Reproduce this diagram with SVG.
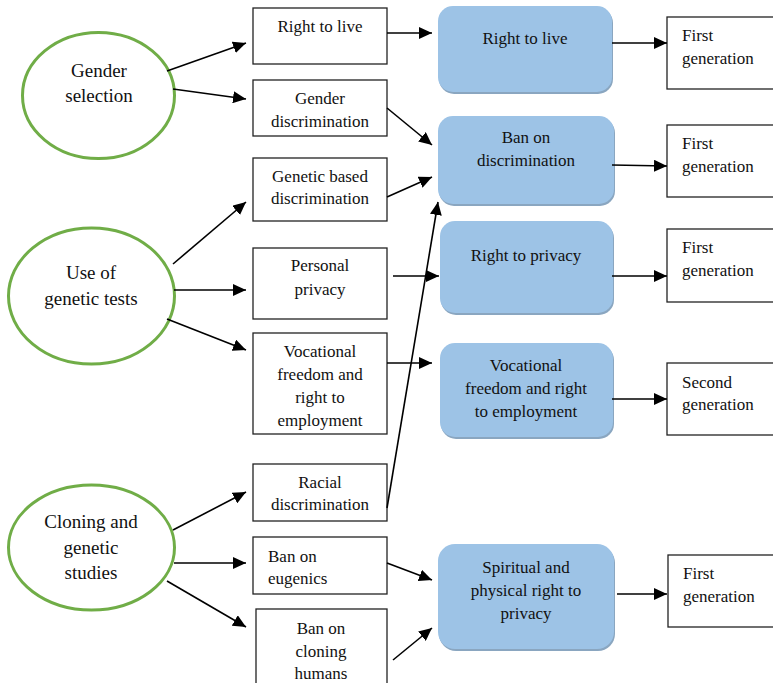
<svg xmlns="http://www.w3.org/2000/svg" width="773" height="683" viewBox="0 0 773 683" font-family="'Liberation Serif', 'DejaVu Serif', serif">
<style>
text{font-family:'Liberation Serif','DejaVu Serif',serif;fill:#111;}
.t{font-size:17px;}
.e{font-size:19px;}
.c{text-anchor:middle;}
.box{fill:#fff;stroke:#222;stroke-width:1.3;}
.ell{fill:#fff;stroke:#70AD47;stroke-width:3;}
.blue{fill:#9DC3E6;}
.sh{fill:#8AA6C0;}
.ln{stroke:#000;stroke-width:1.6;fill:none;marker-end:url(#ah);}
</style>
<defs>
<marker id="ah" markerUnits="userSpaceOnUse" markerWidth="14" markerHeight="12" refX="13" refY="6" orient="auto">
<path d="M0,0 L13,6 L0,12 Z" fill="#000"/>
</marker>
</defs>
<rect width="773" height="683" fill="#fff"/>

<g id="gender-selection">
<ellipse class="ell" cx="98.5" cy="95.5" rx="76" ry="63"/>
<text class="e c" x="99" y="77">Gender</text>
<text class="e c" x="99" y="102">selection</text>
</g>
<g id="genetic-tests">
<ellipse class="ell" cx="91.5" cy="296" rx="83" ry="68"/>
<text class="e c" x="91" y="279">Use of</text>
<text class="e c" x="91" y="305">genetic tests</text>
</g>
<g id="cloning">
<ellipse class="ell" cx="91.5" cy="547.5" rx="83" ry="62.5"/>
<text class="e c" x="91" y="528">Cloning and</text>
<text class="e c" x="91" y="554">genetic</text>
<text class="e c" x="91" y="579">studies</text>
</g>

<g id="s-right-to-live">
<rect class="box" x="253" y="8" width="134" height="56"/>
<text class="t c" x="320" y="32">Right to live</text>
</g>
<g id="s-gender-discrimination">
<rect class="box" x="253" y="80" width="134" height="56"/>
<text class="t c" x="320" y="104">Gender</text>
<text class="t c" x="320" y="127">discrimination</text>
</g>
<g id="s-genetic-discrimination">
<rect class="box" x="253" y="158" width="134" height="63"/>
<text class="t c" x="320" y="182">Genetic based</text>
<text class="t c" x="320" y="204">discrimination</text>
</g>
<g id="s-personal-privacy">
<rect class="box" x="253" y="248" width="134" height="71"/>
<text class="t c" x="320" y="271">Personal</text>
<text class="t c" x="320" y="295">privacy</text>
</g>
<g id="s-vocational">
<rect class="box" x="253" y="333" width="134" height="101"/>
<text class="t c" x="320" y="357">Vocational</text>
<text class="t c" x="320" y="380">freedom and</text>
<text class="t c" x="320" y="403">right to</text>
<text class="t c" x="320" y="426">employment</text>
</g>
<g id="s-racial">
<rect class="box" x="253" y="464" width="134" height="57"/>
<text class="t c" x="320" y="488">Racial</text>
<text class="t c" x="320" y="510">discrimination</text>
</g>
<g id="s-eugenics">
<rect class="box" x="253" y="537" width="134" height="57"/>
<text class="t" x="268" y="562">Ban on</text>
<text class="t" x="268" y="584">eugenics</text>
</g>
<g id="s-cloning">
<rect class="box" x="256" y="609" width="131" height="90"/>
<text class="t c" x="321" y="634">Ban on</text>
<text class="t c" x="321" y="657">cloning</text>
<text class="t c" x="321" y="679">humans</text>
</g>

<g id="b-right-to-live">
<rect class="sh" x="439" y="8" width="174" height="86" rx="15"/>
<rect class="blue" x="438" y="6" width="174" height="86" rx="15"/>
<text class="t c" x="525" y="44">Right to live</text>
</g>
<g id="b-ban-discrimination">
<rect class="sh" x="439" y="118" width="176" height="88" rx="15"/>
<rect class="blue" x="438" y="116" width="176" height="88" rx="15"/>
<text class="t c" x="526" y="143">Ban on</text>
<text class="t c" x="526" y="166">discrimination</text>
</g>
<g id="b-right-to-privacy">
<rect class="sh" x="441" y="223" width="173" height="92" rx="15"/>
<rect class="blue" x="440" y="221" width="173" height="92" rx="15"/>
<text class="t c" x="526" y="261">Right to privacy</text>
</g>
<g id="b-vocational">
<rect class="sh" x="441" y="345" width="173" height="94" rx="15"/>
<rect class="blue" x="440" y="343" width="173" height="94" rx="15"/>
<text class="t c" x="526" y="371">Vocational</text>
<text class="t c" x="526" y="394">freedom and right</text>
<text class="t c" x="526" y="417">to employment</text>
</g>
<g id="b-spiritual">
<rect class="sh" x="439" y="546" width="176" height="105" rx="17"/>
<rect class="blue" x="438" y="544" width="176" height="105" rx="17"/>
<text class="t c" x="526" y="573">Spiritual and</text>
<text class="t c" x="526" y="596">physical right to</text>
<text class="t c" x="526" y="619">privacy</text>
</g>

<g id="g1">
<rect class="box" x="667" y="17" width="120" height="72"/>
<text class="t" x="682" y="41">First</text>
<text class="t" x="682" y="64">generation</text>
</g>
<g id="g2">
<rect class="box" x="667" y="125" width="120" height="72"/>
<text class="t" x="682" y="149">First</text>
<text class="t" x="682" y="172">generation</text>
</g>
<g id="g3">
<rect class="box" x="667" y="229" width="120" height="73"/>
<text class="t" x="682" y="253">First</text>
<text class="t" x="682" y="276">generation</text>
</g>
<g id="g4">
<rect class="box" x="667" y="363" width="120" height="72"/>
<text class="t" x="682" y="388">Second</text>
<text class="t" x="682" y="410">generation</text>
</g>
<g id="g5">
<rect class="box" x="668" y="555" width="120" height="72"/>
<text class="t" x="683" y="579">First</text>
<text class="t" x="683" y="602">generation</text>
</g>

<g id="connectors">
<line class="ln" x1="167" y1="71" x2="246" y2="43"/>
<line class="ln" x1="173" y1="89" x2="246" y2="99"/>
<line class="ln" x1="173" y1="264" x2="246" y2="202"/>
<line class="ln" x1="174" y1="290" x2="246" y2="290"/>
<line class="ln" x1="167" y1="319" x2="246" y2="350"/>
<line class="ln" x1="173" y1="530" x2="246" y2="492"/>
<line class="ln" x1="174" y1="563" x2="246" y2="563"/>
<line class="ln" x1="167" y1="581" x2="246" y2="627"/>

<line class="ln" x1="387" y1="33" x2="432" y2="33"/>
<line class="ln" x1="387" y1="108" x2="432" y2="145"/>
<line class="ln" x1="387" y1="197" x2="432" y2="177"/>
<line class="ln" x1="387" y1="508" x2="438" y2="202"/>
<line class="ln" x1="393" y1="276" x2="439" y2="276"/>
<line class="ln" x1="387" y1="363" x2="432" y2="363"/>
<line class="ln" x1="387" y1="563" x2="432" y2="580"/>
<line class="ln" x1="393" y1="660" x2="432" y2="628"/>

<line class="ln" x1="612" y1="43" x2="667" y2="43"/>
<line class="ln" x1="612" y1="165" x2="667" y2="166"/>
<line class="ln" x1="612" y1="276" x2="667" y2="276"/>
<line class="ln" x1="612" y1="399" x2="667" y2="399"/>
<line class="ln" x1="617" y1="594" x2="667" y2="594"/>
</g>
</svg>
